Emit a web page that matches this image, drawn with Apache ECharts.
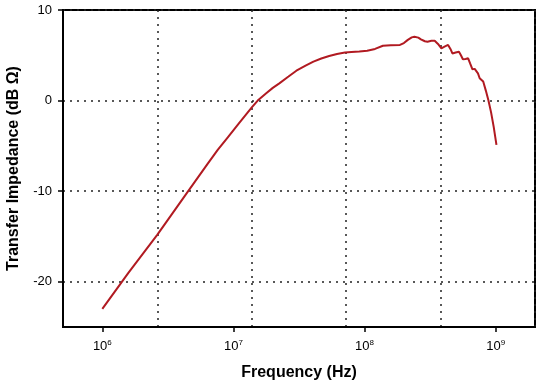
<!DOCTYPE html>
<html>
<head>
<meta charset="utf-8">
<script src="https://cdn.jsdelivr.net/npm/echarts@6/dist/echarts.min.js"></script>
<style>
html,body{margin:0;padding:0;background:#fff;}
#c{width:540px;height:385px;}
</style>
</head>
<body>
<div id="c"></div>
<script>
// log10 of frequency (Hz)
var logFreq = [6.00, 6.20, 6.42, 6.64, 6.80, 6.88, 6.96, 7.04, 7.14, 7.185, 7.25, 7.30, 7.35, 7.42, 7.48, 7.55, 7.61, 7.67, 7.73, 7.79, 7.85, 7.90, 7.96, 8.02, 8.08, 8.14, 8.20, 8.27, 8.30, 8.33, 8.36, 8.38, 8.41, 8.43, 8.46, 8.48, 8.51, 8.535, 8.56, 8.586, 8.61, 8.637, 8.655, 8.67, 8.695, 8.72, 8.735, 8.75, 8.77, 8.79, 8.805, 8.823, 8.84, 8.853, 8.865, 8.878, 8.89, 8.905, 8.925, 8.945, 8.965, 8.985, 9.006];
// transfer impedance (dB Ohm)
var impedance = [-23.0, -19.0, -14.8, -10.3, -7.05, -5.45, -4.0, -2.55, -0.75, 0.0, 0.8, 1.4, 1.9, 2.65, 3.3, 3.85, 4.3, 4.65, 4.92, 5.15, 5.3, 5.37, 5.42, 5.5, 5.7, 6.05, 6.12, 6.14, 6.35, 6.7, 6.98, 7.05, 6.95, 6.76, 6.55, 6.5, 6.6, 6.6, 6.25, 5.77, 5.95, 6.14, 5.7, 5.2, 5.3, 5.4, 5.0, 4.56, 4.6, 4.67, 4.1, 3.45, 3.5, 3.56, 3.0, 2.46, 2.3, 2.1, 1.1, 0.0, -1.3, -2.9, -4.9];
var xTickExps = [6, 7, 8, 9];
var yTicks = [-20, -10, 0, 10];

var data = logFreq.map(function (x, i) { return [x, impedance[i]]; });
var font = 'Liberation Sans, Arial, sans-serif';
var chart = echarts.init(document.getElementById('c'), null, {renderer: 'canvas'});
chart.setOption({
  animation: false,
  backgroundColor: '#ffffff',
  grid: {left: 63, right: 5, top: 10, bottom: 58, show: true, borderColor: '#000', borderWidth: 2, containLabel: false, outerBoundsMode: 'none'},
  xAxis: [{
    type: 'value', min: 5.7, max: 9.3,
    name: 'Frequency (Hz)', nameLocation: 'middle', nameGap: 38,
    nameTextStyle: {fontFamily: font, fontSize: 16, fontWeight: 'bold', color: '#000'},
    axisLine: {show: true, onZero: false, lineStyle: {color: '#000', width: 2}},
    axisTick: {show: true, length: 5, lineStyle: {color: '#000', width: 1.5}, customValues: xTickExps},
    axisLabel: {
      customValues: xTickExps, margin: 12, fontFamily: font, color: '#000',
      formatter: function (v) { return '{b|10}{s|' + Math.round(v) + '}'; },
      rich: {b: {fontSize: 13, fontFamily: font, color: '#000', lineHeight: 14},
             s: {fontSize: 8, fontFamily: font, color: '#000', verticalAlign: 'top', lineHeight: 10}}
    },
    splitLine: {show: false}
  }, {
    type: 'value', min: 0, max: 5, interval: 1, position: 'bottom',
    axisLine: {show: false, onZero: false}, axisTick: {show: false}, axisLabel: {show: false},
    splitLine: {show: true, lineStyle: {color: '#222', type: [2, 5], width: 1.5}}
  }],
  yAxis: {
    type: 'value', min: -25, max: 10,
    name: 'Transfer Impedance (dB Ω)', nameLocation: 'middle', nameGap: 41, nameRotate: 90,
    nameTextStyle: {fontFamily: font, fontSize: 16, fontWeight: 'bold', color: '#000'},
    axisLine: {show: true, onZero: false, lineStyle: {color: '#000', width: 2}},
    axisTick: {show: true, length: 5, lineStyle: {color: '#000', width: 1.5}, customValues: yTicks},
    axisLabel: {customValues: yTicks, margin: 11, fontFamily: font, fontSize: 13, color: '#000'},
    splitLine: {show: true, lineStyle: {color: '#222', type: [2, 5], width: 1.5}}
  },
  series: [{
    type: 'line', data: data, xAxisIndex: 0, showSymbol: false, symbol: 'none',
    smooth: false,
    lineStyle: {color: '#b11a21', width: 2}
  }]
});
</script>
</body>
</html>
